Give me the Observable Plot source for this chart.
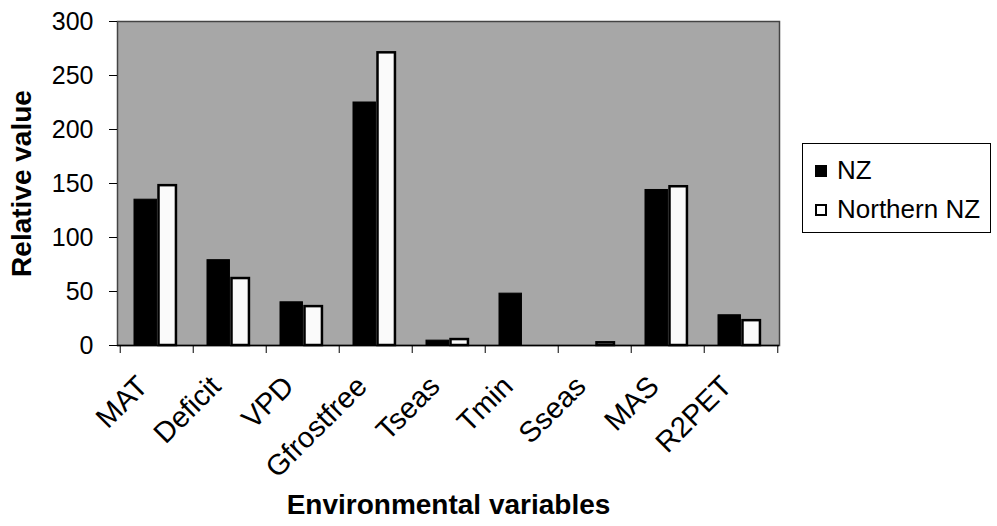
<!DOCTYPE html>
<html>
<head>
<meta charset="utf-8">
<script src="https://cdn.jsdelivr.net/npm/d3@7"></script>
<script src="https://cdn.jsdelivr.net/npm/@observablehq/plot@0.6"></script>
<style>
  html, body { margin: 0; padding: 0; background: #fff; }
  #wrap { position: relative; width: 997px; height: 526px; font-family: "Liberation Sans", Arial, sans-serif; }
  #wrap svg { font-family: "Liberation Sans", Arial, sans-serif; }
  [aria-label="y-axis label"], [aria-label="x-axis label"] { font-weight: bold; font-size: 28px; }
  #legend { position: absolute; left: 802px; top: 143px; width: 187px; height: 88px; border: 1px solid #000; background: #fff; font-size: 26px; color: #000; }
  .item { position: absolute; left: 12px; display: flex; align-items: center; white-space: nowrap; }
  .sw { width: 12px; height: 12px; box-sizing: border-box; border: 2px solid #000; margin-right: 10px; }
</style>
</head>
<body>
<div id="wrap">
  <div id="legend">
    <div class="item" style="top:11px"><div class="sw" style="background:#000"></div><span>NZ</span></div>
    <div class="item" style="top:50px"><div class="sw" style="background:#fff"></div><span>Northern NZ</span></div>
  </div>
</div>
<script>
const categories = ["MAT", "Deficit", "VPD", "Gfrostfree", "Tseas", "Tmin", "Sseas", "MAS", "R2PET"];
const nzValues = [135, 79, 40, 225, 4.5, 48, 0, 144, 28];
const northernValues = [148, 62, 36, 271, 5.5, 0, 2.5, 147, 23];
const yTicks = [0, 50, 100, 150, 200, 250, 300];

const nzRows = categories.map((c, i) => ({category: c, value: nzValues[i]}));
const northRows = categories.map((c, i) => ({category: c, value: northernValues[i]}));

const W = 997, H = 526, ML = 117, MR = 218, MT = 21, MB = 181;
const bw = (W - ML - MR) / categories.length;

const chart = Plot.plot({
  width: W, height: H,
  marginLeft: ML, marginRight: MR, marginTop: MT, marginBottom: MB,
  style: {fontFamily: "Liberation Sans, Arial, sans-serif", color: "#000", background: "transparent"},
  x: {domain: categories, padding: 0},
  y: {domain: [0, 300]},
  marks: [
    Plot.frame({fill: "#a7a7a7", stroke: "#444", strokeWidth: 1.5}),
    Plot.barY(nzRows.filter(d => d.value > 0), {x: "category", y: "value", fill: "#000", stroke: "#000", strokeWidth: 1, insetLeft: 14, insetRight: bw - 37}),
    Plot.barY(northRows.filter(d => d.value > 0), {x: "category", y: "value", fill: "#fafafa", stroke: "#000", strokeWidth: 2.5, insetLeft: 38.5, insetRight: bw - 56.5}),
    Plot.ruleY([0], {stroke: "#000", strokeWidth: 1.5}),
    Plot.axisY({ticks: yTicks, tickSize: 8, tickPadding: 16, fontSize: 25, label: "Relative value", labelAnchor: "center", labelOffset: 106, labelArrow: "none"}),
    Plot.axisX({ticks: categories, tickSize: 8, tickFormat: () => "", label: null, dx: -bw / 2}),
    Plot.axisX({ticks: [categories[categories.length - 1]], tickSize: 8, tickFormat: () => "", label: null, dx: bw / 2}),
    Plot.axisX({tickSize: 0, tickRotate: -45, tickPadding: 36, dx: -14, fontSize: 29, label: "Environmental variables", labelAnchor: "center", labelOffset: 168, labelArrow: "none"})
  ]
});
document.getElementById("wrap").prepend(chart);
</script>
</body>
</html>
